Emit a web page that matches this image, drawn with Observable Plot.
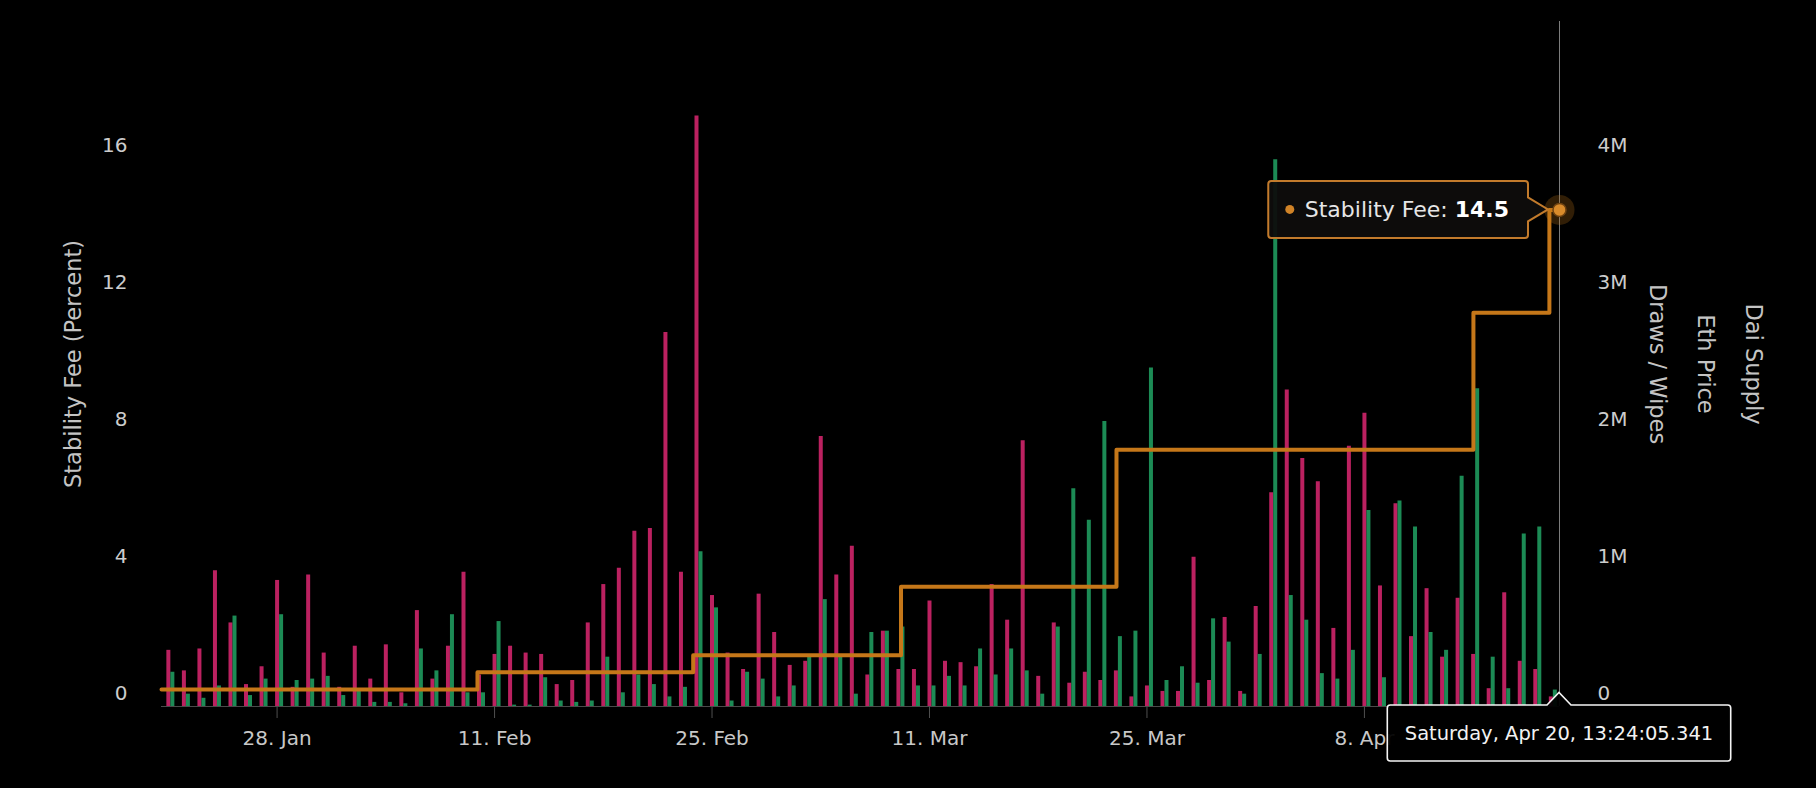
<!DOCTYPE html>
<html>
<head>
<meta charset="utf-8">
<script src="https://cdn.jsdelivr.net/npm/d3@7"></script>
<script src="https://cdn.jsdelivr.net/npm/@observablehq/plot@0.6"></script>
<style>
  html, body { margin: 0; padding: 0; background: #000; }
  #chart { width: 1816px; height: 788px; overflow: hidden; }
</style>
</head>
<body>
<div id="chart"></div>
<script>
// ---- data ----
const firstDay = "2019-01-21";           // first daily group
// daily draws and wipes, in millions of Dai (Jan 21 .. Apr 20)
const draws = [
  0.41,0.26,0.42,0.99,0.61,0.16,0.29,0.92,0.14,0.96,
  0.39,0.14,0.44,0.20,0.45,0.10,0.70,0.20,0.44,0.98,
  0.23,0.38,0.44,0.39,0.38,0.16,0.19,0.61,0.89,1.01,
  1.28,1.30,2.73,0.98,4.31,0.81,0.39,0.27,0.82,0.54,
  0.30,0.33,1.97,0.96,1.17,0.23,0.55,0.27,0.27,0.77,
  0.33,0.32,0.29,0.89,0.63,1.94,0.22,0.61,0.17,0.25,
  0.19,0.26,0.07,0.15,0.11,0.11,1.09,0.19,0.65,0.11,
  0.73,1.56,2.31,1.81,1.64,0.57,1.90,2.14,0.88,1.48,
  0.51,0.86,0.36,0.79,0.38,0.13,0.83,0.33,0.27,0.07
];
const wipes = [
  0.25,0.09,0.06,0.15,0.66,0.08,0.20,0.67,0.19,0.20,
  0.22,0.08,0.12,0.03,0.03,0.02,0.42,0.26,0.67,0.10,
  0.10,0.62,0.01,0.01,0.21,0.04,0.03,0.04,0.36,0.10,
  0.23,0.16,0.07,0.14,1.13,0.72,0.04,0.25,0.20,0.07,
  0.15,0.36,0.78,0.36,0.09,0.54,0.55,0.58,0.15,0.15,
  0.22,0.15,0.42,0.23,0.42,0.26,0.09,0.58,1.59,1.36,
  2.08,0.51,0.55,2.47,0.19,0.29,0.17,0.64,0.47,0.09,
  0.38,3.99,0.81,0.63,0.24,0.20,0.41,1.43,0.21,1.50,
  1.31,0.54,0.41,1.68,2.32,0.36,0.13,1.26,1.31,0.12
];
// stability fee (percent), step changes
const feeDates = [
  "2019-01-20T13:24:05Z","2019-02-09T21:36Z","2019-02-23T18:55Z","2019-03-09T04:00Z",
  "2019-03-23T00:55Z","2019-04-15T00:24Z","2019-04-19T21:48Z","2019-04-20T13:24:05Z"
];
const feeValues = [0.5, 1.0, 1.5, 3.5, 7.5, 11.5, 14.5, 14.5];

const domainStart = "2019-01-20T13:24:05.341Z";
const domainEnd   = "2019-04-20T13:24:05.341Z";
const xTickDates  = ["2019-01-28","2019-02-11","2019-02-25","2019-03-11","2019-03-25","2019-04-08"];
const xTickLabels = ["28. Jan","11. Feb","25. Feb","11. Mar","25. Mar","8. Apr"];
const leftTicks   = [0, 4, 8, 12, 16];
const rightTickValues = [0, 1, 2, 3, 4];          // millions
const rightTickLabels = ["0", "1M", "2M", "3M", "4M"];
const pctPerMillion = 4;                          // 1M on right axis = 4 % on left axis
const leftTitle   = "Stability Fee (Percent)";
const rightTitles = ["Draws / Wipes", "Eth Price", "Dai Supply"];
const hoverTime   = "2019-04-20T13:24:05.341Z";
const hoverDateText = "Saturday, Apr 20, 13:24:05.341";
const hoverSeries = "Stability Fee";
const hoverValue  = 14.5;

// ---- colours / fonts ----
const PINK = "#bb2160", GREEN = "#1c8b55", ORANGE = "#c57719";
const FONT = "DejaVu Sans";

// ---- tables ----
const start = new Date(firstDay + "T00:00:00Z");
const days = draws.map((_, i) => d3.utcDay.offset(start, i));
const drawRows = days.map((date, i) => ({date, v: draws[i]}));
const wipeRows = days.map((date, i) => ({date, v: wipes[i]}));
const feeRows = feeDates.map((d, i) => ({date: new Date(d), v: feeValues[i]}));
const xLabelMap = new Map(xTickDates.map((d, i) => [+new Date(d + "T00:00:00Z"), xTickLabels[i]]));
const rightLabelMap = new Map(rightTickValues.map((v, i) => [v * pctPerMillion, rightTickLabels[i]]));
const hover = [{date: new Date(hoverTime), v: hoverValue}];

const titleStyle = {fontSize: 22.5, fill: "#c4c4c4", textAnchor: "middle", lineAnchor: "middle"};

const plot = Plot.plot({
  width: 1816,
  height: 788,
  marginLeft: 161,
  marginRight: 257,
  marginTop: 21,
  marginBottom: 82,
  style: {background: "#000", color: "#c8c8c8", fontFamily: FONT, fontSize: "20px", overflow: "visible"},
  x: {type: "utc", domain: [new Date(domainStart), new Date(domainEnd)], label: null},
  y: {domain: [0, 20], label: null},
  marks: [
    Plot.ruleY([0], {stroke: "#4a4a4a", strokeWidth: 1}),
    Plot.ruleX(drawRows, {x: "date", y1: 0, y2: d => d.v * pctPerMillion, stroke: PINK, strokeWidth: 4, dx: 0}),
    Plot.ruleX(wipeRows, {x: "date", y1: 0, y2: d => d.v * pctPerMillion, stroke: GREEN, strokeWidth: 4, dx: 4}),
    Plot.line(feeRows, {x: "date", y: "v", curve: "step-after", stroke: ORANGE, strokeWidth: 4}),
    Plot.ruleX(hover, {x: "date", stroke: "#7c7c7c", strokeWidth: 1}),
    Plot.axisX(xTickDates.map(d => new Date(d + "T00:00:00Z")), {
      tickSize: 12, tickPadding: 12, stroke: "#4f4f4f", fill: "#c8c8c8", fontSize: 20,
      tickFormat: d => xLabelMap.get(+d), label: null
    }),
    Plot.axisY(leftTicks, {
      anchor: "left", tickSize: 0, tickPadding: 34, dy: -12.5, fill: "#cccccc", fontSize: 20, label: null
    }),
    Plot.axisY(rightTickValues.map(v => v * pctPerMillion), {
      anchor: "right", tickSize: 0, tickPadding: 38, dy: -12.5, fill: "#cccccc", fontSize: 20,
      tickFormat: d => rightLabelMap.get(d), label: null
    }),
    Plot.text([leftTitle], {frameAnchor: "left", rotate: -90, dx: -88, ...titleStyle}),
    Plot.text([rightTitles[0]], {frameAnchor: "right", rotate: 90, dx: 98, ...titleStyle}),
    Plot.text([rightTitles[1]], {frameAnchor: "right", rotate: 90, dx: 146, ...titleStyle}),
    Plot.text([rightTitles[2]], {frameAnchor: "right", rotate: 90, dx: 194, ...titleStyle}),
    Plot.dot(hover, {x: "date", y: "v", r: 15, fill: ORANGE, fillOpacity: 0.25}),
    Plot.dot(hover, {x: "date", y: "v", r: 6.5, fill: "#d98b2b", stroke: "#6e4211", strokeWidth: 1.5})
  ]
});

document.getElementById("chart").appendChild(plot);

// ---- tooltips (positioned through the plot's own scales) ----
const sx = plot.scale("x"), sy = plot.scale("y");
const px = sx.apply(new Date(hoverTime));
const py = sy.apply(hoverValue);
const y0 = sy.apply(0);
const svg = d3.select(plot);

function roundedCallout(x0, x1, top, bottom, r, arrow) {
  let p = `M${x0 + r},${top}`;
  if (arrow.side === "top") {
    p += `H${arrow.tipX - arrow.half}L${arrow.tipX},${arrow.tipY}L${arrow.tipX + arrow.half},${top}`;
  }
  p += `H${x1 - r}Q${x1},${top} ${x1},${top + r}`;
  if (arrow.side === "right") {
    p += `V${arrow.tipY - arrow.half}L${arrow.tipX},${arrow.tipY}L${x1},${arrow.tipY + arrow.half}`;
  }
  p += `V${bottom - r}Q${x1},${bottom} ${x1 - r},${bottom}H${x0 + r}Q${x0},${bottom} ${x0},${bottom - r}V${top + r}Q${x0},${top} ${x0 + r},${top}Z`;
  return p;
}

// date label under the crosshair
{
  const g = svg.append("g");
  const path = g.append("path");
  const top = y0 - 1, bottom = y0 + 55;
  const t = g.append("text")
    .attr("x", px).attr("y", (top + bottom) / 2).attr("dy", "0.36em")
    .attr("text-anchor", "middle")
    .attr("font-family", FONT).attr("font-size", 19.5).attr("fill", "#f2f2f2")
    .text(hoverDateText);
  const w = t.node().getComputedTextLength() + 35;
  path.attr("d", roundedCallout(px - w / 2, px + w / 2, top, bottom, 3,
      {side: "top", tipX: px, tipY: y0 - 13.5, half: 12}))
    .attr("fill", "rgba(0,0,0,0.94)").attr("stroke", "#f5f5f5").attr("stroke-width", 1.6);
}

// series tooltip to the left of the hovered point
{
  const g = svg.append("g");
  const path = g.append("path");
  const x1 = px - 31, top = py - 28.5, bottom = py + 28.5;
  const t = g.append("text")
    .attr("x", x1 - 19).attr("y", py).attr("dy", "0.36em")
    .attr("text-anchor", "end")
    .attr("font-family", FONT).attr("font-size", 22).attr("fill", "#e6e6e6");
  t.append("tspan").text(hoverSeries + ": ");
  t.append("tspan").attr("font-weight", "bold").attr("fill", "#ffffff").text(String(hoverValue));
  const L = t.node().getComputedTextLength();
  const bulletX = x1 - 19 - L - 15;
  const x0 = bulletX - 21.5;
  g.append("circle").attr("cx", bulletX).attr("cy", py).attr("r", 4.5).attr("fill", "#d08327");
  path.attr("d", roundedCallout(x0, x1, top, bottom, 3,
      {side: "right", tipX: px - 11, tipY: py, half: 12}))
    .attr("fill", "rgba(14,13,12,0.94)").attr("stroke", "#c27b2c").attr("stroke-width", 2);
}
</script>
</body>
</html>
